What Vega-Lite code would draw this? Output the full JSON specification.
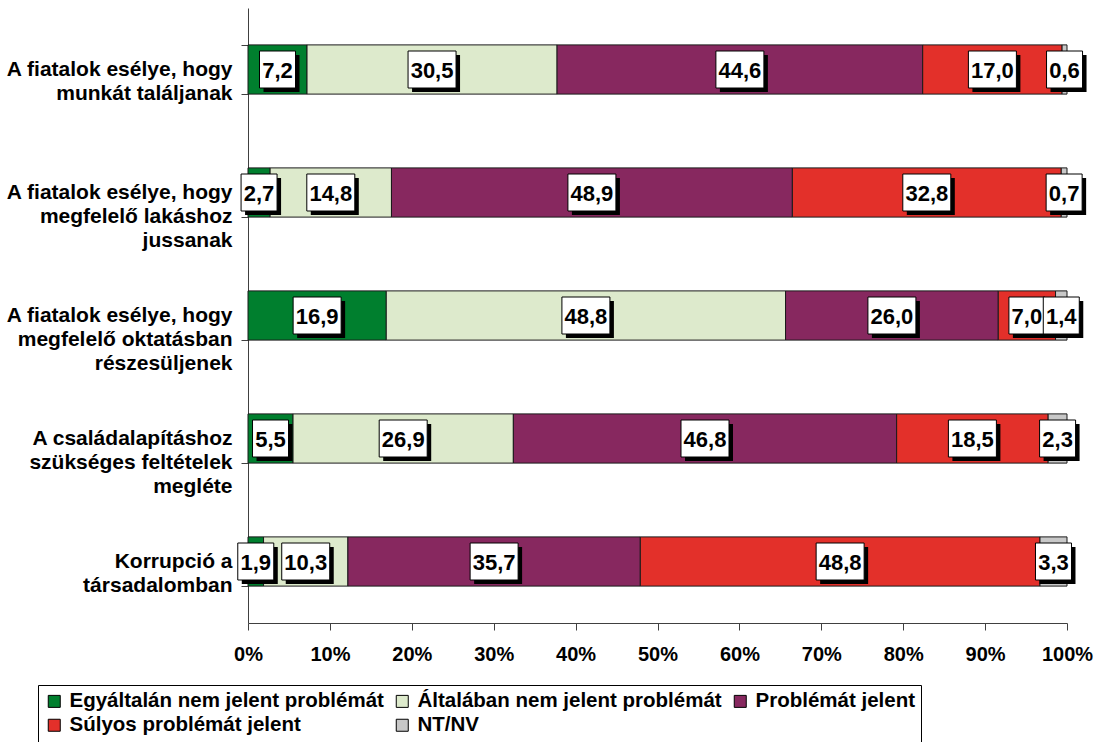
{
  "$schema": "https://vega.github.io/schema/vega-lite/v6.json",
  "autosize": {"type": "none"},
  "width": 819,
  "height": 615,
  "padding": {"left": 248, "top": 8, "right": 36, "bottom": 119},
  "background": "white",
  "config": {
    "view": {"stroke": null},
    "font": "Liberation Sans"
  },
  "data": {
    "values": [
      {"cat": "A fiatalok esélye, hogy|munkát találjanak", "s": "Egyáltalán nem jelent problémát", "ord": 1, "v": 7.2},
      {"cat": "A fiatalok esélye, hogy|munkát találjanak", "s": "Általában nem jelent problémát", "ord": 2, "v": 30.5},
      {"cat": "A fiatalok esélye, hogy|munkát találjanak", "s": "Problémát jelent", "ord": 3, "v": 44.6},
      {"cat": "A fiatalok esélye, hogy|munkát találjanak", "s": "Súlyos problémát jelent", "ord": 4, "v": 17.0},
      {"cat": "A fiatalok esélye, hogy|munkát találjanak", "s": "NT/NV", "ord": 5, "v": 0.6},
      {"cat": "A fiatalok esélye, hogy|megfelelő lakáshoz|jussanak", "s": "Egyáltalán nem jelent problémát", "ord": 1, "v": 2.7},
      {"cat": "A fiatalok esélye, hogy|megfelelő lakáshoz|jussanak", "s": "Általában nem jelent problémát", "ord": 2, "v": 14.8},
      {"cat": "A fiatalok esélye, hogy|megfelelő lakáshoz|jussanak", "s": "Problémát jelent", "ord": 3, "v": 48.9},
      {"cat": "A fiatalok esélye, hogy|megfelelő lakáshoz|jussanak", "s": "Súlyos problémát jelent", "ord": 4, "v": 32.8},
      {"cat": "A fiatalok esélye, hogy|megfelelő lakáshoz|jussanak", "s": "NT/NV", "ord": 5, "v": 0.7},
      {"cat": "A fiatalok esélye, hogy|megfelelő oktatásban|részesüljenek", "s": "Egyáltalán nem jelent problémát", "ord": 1, "v": 16.9},
      {"cat": "A fiatalok esélye, hogy|megfelelő oktatásban|részesüljenek", "s": "Általában nem jelent problémát", "ord": 2, "v": 48.8},
      {"cat": "A fiatalok esélye, hogy|megfelelő oktatásban|részesüljenek", "s": "Problémát jelent", "ord": 3, "v": 26.0},
      {"cat": "A fiatalok esélye, hogy|megfelelő oktatásban|részesüljenek", "s": "Súlyos problémát jelent", "ord": 4, "v": 7.0},
      {"cat": "A fiatalok esélye, hogy|megfelelő oktatásban|részesüljenek", "s": "NT/NV", "ord": 5, "v": 1.4},
      {"cat": "A családalapításhoz|szükséges feltételek|megléte", "s": "Egyáltalán nem jelent problémát", "ord": 1, "v": 5.5},
      {"cat": "A családalapításhoz|szükséges feltételek|megléte", "s": "Általában nem jelent problémát", "ord": 2, "v": 26.9},
      {"cat": "A családalapításhoz|szükséges feltételek|megléte", "s": "Problémát jelent", "ord": 3, "v": 46.8},
      {"cat": "A családalapításhoz|szükséges feltételek|megléte", "s": "Súlyos problémát jelent", "ord": 4, "v": 18.5},
      {"cat": "A családalapításhoz|szükséges feltételek|megléte", "s": "NT/NV", "ord": 5, "v": 2.3},
      {"cat": "Korrupció a|társadalomban", "s": "Egyáltalán nem jelent problémát", "ord": 1, "v": 1.9},
      {"cat": "Korrupció a|társadalomban", "s": "Általában nem jelent problémát", "ord": 2, "v": 10.3},
      {"cat": "Korrupció a|társadalomban", "s": "Problémát jelent", "ord": 3, "v": 35.7},
      {"cat": "Korrupció a|társadalomban", "s": "Súlyos problémát jelent", "ord": 4, "v": 48.8},
      {"cat": "Korrupció a|társadalomban", "s": "NT/NV", "ord": 5, "v": 3.3}
    ]
  },
  "transform": [
    {"stack": "v", "groupby": ["cat"], "sort": [{"field": "ord"}], "as": ["x0", "x1"], "offset": "normalize"},
    {"calculate": "(datum.x0 + datum.x1) / 2", "as": "mid"},
    {"calculate": "replace(format(datum.v, '.1f'), '.', ',')", "as": "lab"}
  ],
  "encoding": {
    "y": {
      "field": "cat",
      "type": "nominal",
      "sort": null,
      "title": null,
      "scale": {"paddingInner": 0.6, "paddingOuter": 0.3},
      "axis": {
        "labelExpr": "split(datum.label, '|')",
        "labelFont": "Liberation Sans",
        "labelFontWeight": "bold",
        "labelFontSize": 21,
        "labelLineHeight": 24,
        "labelColor": "black",
        "labelLimit": 400,
        "labelPadding": 9,
        "tickBand": "extent",
        "tickSize": 7,
        "tickColor": "#404040",
        "domainColor": "#404040",
        "domainWidth": 1
      }
    }
  },
  "layer": [
    {
      "mark": {"type": "bar", "stroke": "#1a1a1a", "strokeWidth": 1},
      "encoding": {
        "x": {
          "field": "x0",
          "type": "quantitative",
          "title": null,
          "scale": {"domain": [0, 1], "nice": false},
          "axis": {
            "values": [0, 0.1, 0.2, 0.3, 0.4, 0.5, 0.6, 0.7, 0.8, 0.9, 1],
            "format": ".0%",
            "grid": false,
            "labelFont": "Liberation Sans",
            "labelFontWeight": "bold",
            "labelFontSize": 20,
            "labelColor": "black",
            "labelPadding": 14,
            "tickSize": 7,
            "tickColor": "#404040",
            "domainColor": "#404040",
            "labelFlush": false
          }
        },
        "x2": {"field": "x1"},
        "order": {"field": "ord", "type": "quantitative"},
        "color": {
          "field": "s",
          "type": "nominal",
          "scale": {
            "domain": ["Egyáltalán nem jelent problémát", "Általában nem jelent problémát", "Problémát jelent", "Súlyos problémát jelent", "NT/NV"],
            "range": ["#007F2E", "#DDEACC", "#87285F", "#E3302A", "#C8C8C8"]
          },
          "legend": {
            "title": null,
            "orient": "none",
            "legendX": -210,
            "legendY": 677,
            "direction": "horizontal",
            "columns": 3,
            "gridAlign": "each",
            "columnPadding": 8,
            "rowPadding": 3,
            "padding": 6,
            "strokeColor": "black",
            "labelFont": "Liberation Sans",
            "labelFontWeight": "bold",
            "labelFontSize": 20.5,
            "labelColor": "black",
            "labelLimit": 500,
            "labelOffset": 5,
            "symbolType": "square",
            "symbolSize": 144,
            "symbolStrokeColor": "black",
            "symbolStrokeWidth": 1
          }
        }
      }
    },
    {
      "mark": {"type": "point", "filled": true, "fill": "black", "size": 2500, "opacity": 1},
      "encoding": {
        "x": {"field": "mid", "type": "quantitative"},
        "shape": {
          "condition": {"test": "datum.v >= 10", "value": "M-0.8,-0.58H1.12V0.9H-0.8Z"},
          "value": "M-0.56,-0.58H0.88V0.9H-0.56Z"
        }
      }
    },
    {
      "mark": {"type": "point", "filled": true, "fill": "white", "stroke": "black", "strokeWidth": 1, "size": 2500, "opacity": 1},
      "encoding": {
        "x": {"field": "mid", "type": "quantitative"},
        "shape": {
          "condition": {"test": "datum.v >= 10", "value": "M-0.96,-0.74H0.96V0.74H-0.96Z"},
          "value": "M-0.72,-0.74H0.72V0.74H-0.72Z"
        }
      }
    },
    {
      "mark": {"type": "text", "font": "Liberation Sans", "fontWeight": "bold", "fontSize": 22, "color": "black", "align": "center", "baseline": "middle", "dy": 1},
      "encoding": {
        "x": {"field": "mid", "type": "quantitative"},
        "text": {"field": "lab"}
      }
    }
  ]
}
